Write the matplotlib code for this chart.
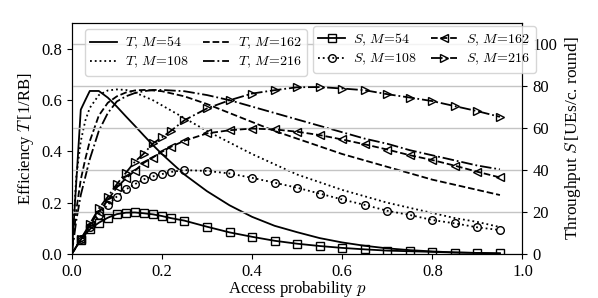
import matplotlib
matplotlib.use('Agg')
import matplotlib.pyplot as plt

plt.rcParams['font.family'] = ['Liberation Serif', 'DejaVu Serif']
plt.rcParams['mathtext.fontset'] = 'cm'

# access probability grid for the efficiency curves
p_T = [0, 0.01, 0.02, 0.03, 0.04, 0.06, 0.08, 0.1, 0.12, 0.14, 0.16, 0.18, 0.2,
       0.25, 0.3, 0.35, 0.4, 0.45, 0.5, 0.55, 0.6, 0.65, 0.7, 0.75, 0.8, 0.85, 0.9, 0.95]
T_54 = [0, 0.28, 0.563, 0.60, 0.636, 0.636, 0.61, 0.575, 0.537, 0.50, 0.462, 0.425, 0.39,
        0.31, 0.245, 0.19, 0.145, 0.11, 0.085, 0.062, 0.045, 0.032, 0.022, 0.015, 0.01, 0.006, 0.004, 0.002]
T_108 = [0, 0.30, 0.44, 0.52, 0.57, 0.62, 0.638, 0.642, 0.64, 0.63, 0.615, 0.60, 0.58,
         0.53, 0.48, 0.435, 0.39, 0.35, 0.31, 0.28, 0.25, 0.225, 0.20, 0.18, 0.16, 0.14, 0.125, 0.105]
T_162 = [0, 0.17, 0.29, 0.37, 0.44, 0.54, 0.59, 0.615, 0.63, 0.638, 0.64, 0.638, 0.635,
         0.615, 0.585, 0.55, 0.515, 0.48, 0.45, 0.42, 0.39, 0.365, 0.34, 0.315, 0.29, 0.27, 0.25, 0.23]
T_216 = [0, 0.13, 0.23, 0.30, 0.37, 0.48, 0.55, 0.595, 0.615, 0.628, 0.635, 0.64, 0.64,
         0.635, 0.62, 0.60, 0.575, 0.55, 0.525, 0.50, 0.475, 0.45, 0.43, 0.405, 0.385, 0.365, 0.345, 0.33]

# access probability grid for the throughput curves (markers)
p_S = [0, 0.02, 0.04, 0.06, 0.08, 0.1, 0.12, 0.14, 0.16, 0.18, 0.2, 0.22, 0.25,
       0.3, 0.35, 0.4, 0.45, 0.5, 0.55, 0.6, 0.65, 0.7, 0.75, 0.8, 0.85, 0.9, 0.95]
S_54 = [0, 6.8, 11.8, 14.9, 17.3, 19.0, 19.7, 19.8, 19.4, 18.9, 18.1, 17.1, 15.9,
        13.0, 10.3, 8.2, 6.3, 4.9, 3.8, 2.9, 2.2, 1.6, 1.3, 1.0, 0.7, 0.5, 0.3]
S_108 = [0, 7.0, 13.0, 18.6, 23.5, 27.4, 30.8, 33.3, 35.6, 37.0, 38.1, 39.1, 40.0,
         39.6, 38.4, 36.3, 34.0, 31.6, 28.8, 26.0, 23.4, 20.6, 18.6, 16.2, 14.6, 12.7, 11.4]
S_162 = [0, 7.0, 13.8, 20.1, 25.7, 31.8, 36.0, 39.7, 43.5, 46.0, 48.7, 51.1, 54.0,
         57.5, 59.0, 59.8, 59.4, 58.3, 56.7, 54.6, 52.3, 49.8, 47.1, 44.8, 42.1, 39.2, 36.5]
S_216 = [0, 7.0, 14.3, 21.7, 27.3, 33.3, 38.7, 44.0, 47.9, 52.7, 55.6, 58.7, 63.8,
         69.4, 73.3, 76.5, 78.1, 79.5, 79.6, 78.9, 78.1, 76.2, 74.6, 72.9, 70.5, 68.1, 65.4]

M_vals = [54, 108, 162, 216]
styles = ['-', ':', '--', '-.']
markers = ['s', 'o', '<', '>']

fig = plt.figure(figsize=(5.98, 2.98), dpi=100)
ax1 = fig.add_axes([0.12, 0.1477, 0.7537, 0.7741])
ax2 = ax1.twinx()

T_all = [T_54, T_108, T_162, T_216]
S_all = [S_54, S_108, S_162, S_216]

hT = []
for M, T, ls in zip(M_vals, T_all, styles):
    h, = ax1.plot(p_T, T, color='black', ls=ls, lw=1.3,
                  label=r'$T,\,M\!=\!%d$' % M)
    hT.append(h)

hS = []
for M, S, ls, mk in zip(M_vals, S_all, styles, markers):
    h, = ax2.plot(p_S, S, color='black', ls=ls, lw=1.3, marker=mk, ms=5.5,
                  mfc='none', mew=1.0, markevery=list(range(1, len(p_S))),
                  label=r'$S,\,M\!=\!%d$' % M)
    hS.append(h)

ax1.set_xlim(0, 1.0)
ax1.set_ylim(0, 0.9)
ax2.set_ylim(0, 110)
ax1.set_xticks([0, 0.2, 0.4, 0.6, 0.8, 1.0])
ax1.set_yticks([0, 0.2, 0.4, 0.6, 0.8])
ax2.set_yticks([0, 20, 40, 60, 80, 100])
ax2.grid(True, axis='y', color='#c4c4c4', lw=1.0)

for ax in (ax1, ax2):
    ax.tick_params(labelsize=12)

ax1.set_xlabel(r'Access probability $p$', fontsize=12, labelpad=-0.6)
ax1.set_ylabel(r'Efficiency $T\,$[1/RB]', fontsize=12)
ax2.set_ylabel(r'Throughput $S\,$[UEs/c. round]', fontsize=12.5)

leg_kw = dict(ncol=2, fontsize=10, loc='upper left', bbox_transform=fig.transFigure,
              borderaxespad=0, handlelength=1.9, handletextpad=0.6,
              columnspacing=1.0, labelspacing=0.3)
leg1 = ax2.legend(handles=hT, bbox_to_anchor=(0.142, 0.902), **leg_kw)
ax2.add_artist(leg1)
ax2.legend(handles=hS, bbox_to_anchor=(0.523, 0.913), **leg_kw)

fig.savefig('out.png', dpi=100)
